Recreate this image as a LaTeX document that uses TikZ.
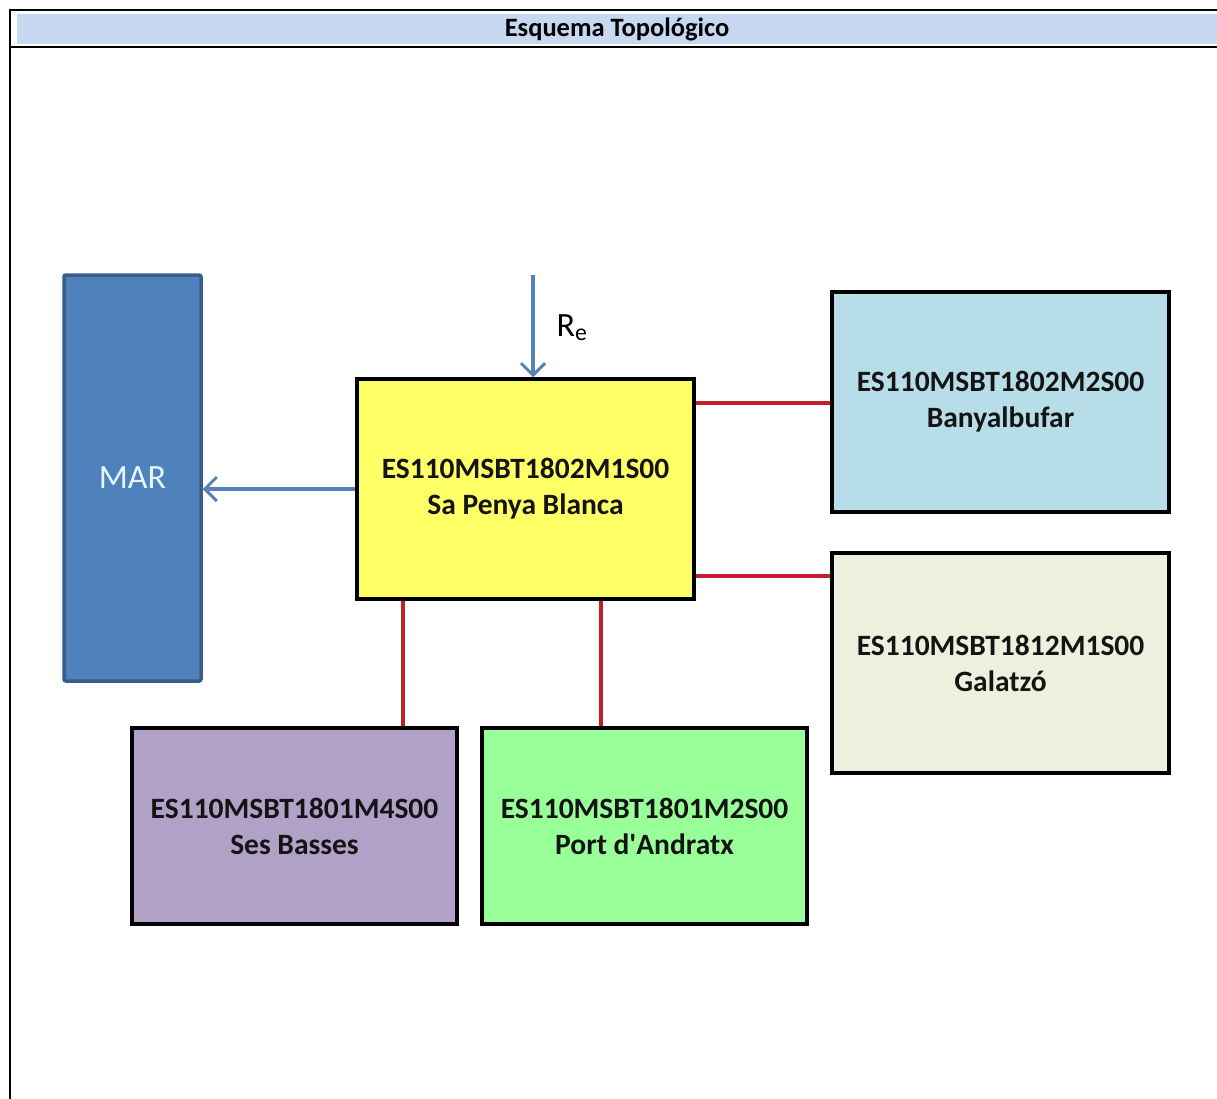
\documentclass[tikz,border=0pt]{standalone}
\usepackage{fontspec}
\setmainfont{Carlito}
\usetikzlibrary{arrows.meta}
\definecolor{hdrfill}{RGB}{198,217,241}
\definecolor{marfill}{RGB}{79,129,189}
\definecolor{mardraw}{RGB}{56,93,138}
\definecolor{flowblue}{RGB}{84,130,184}
\definecolor{linkred}{RGB}{192,32,40}
\definecolor{yelfill}{RGB}{255,255,102}
\definecolor{bluefill}{RGB}{183,222,232}
\definecolor{palefill}{RGB}{235,241,222}
\definecolor{lilacfill}{RGB}{178,161,199}
\definecolor{greenfill}{RGB}{153,255,153}
\tikzset{
  mass/.style={draw=black, line width=3.5pt, rectangle, inner sep=0pt, align=center,
    font=\fontsize{29.5}{36}\selectfont\bfseries, text=black!92},
  flow/.style={draw=flowblue, line width=3.5pt, -{Straight Barb[length=12pt,width=24pt,line width=3pt]}},
  link/.style={draw=linkred, line width=3.5pt},
  frame/.style={draw=black, line width=2.5pt}
}
\begin{document}
\begin{tikzpicture}[x=1pt,y=-1pt]
\useasboundingbox (0,0) rectangle (1217,1099);
% table frame and header band
\fill[hdrfill] (17,14) rectangle (1217,44);
\draw[frame] (10,1099) -- (10,10) -- (1217,10);
\draw[frame] (10,47) -- (1217,47);
\node[font=\fontsize{26.5}{30}\selectfont\bfseries] (title) at (617,29) {Esquema Topológico};

% water bodies
\node[draw=mardraw, fill=marfill, line width=3.5pt, rounded corners=2pt, inner sep=0pt,
  minimum width=137pt, minimum height=406pt, text=white!90!cyan,
  font=\fontsize{34}{40}\selectfont] (mar) at (132.5,478) {MAR};
\node[mass, fill=yelfill, minimum width=337pt, minimum height=220pt] (pb) at (525.5,489)
  {ES110MSBT1802M1S00\\Sa Penya Blanca};
\node[mass, fill=bluefill, minimum width=337pt, minimum height=220pt] (ban) at (1000.5,402)
  {ES110MSBT1802M2S00\\Banyalbufar};
\node[mass, fill=palefill, minimum width=337pt, minimum height=220pt] (gal) at (1000.5,663)
  {ES110MSBT1812M1S00\\Galatzó};
\node[mass, fill=lilacfill, minimum width=325pt, minimum height=196pt] (ses) at (294.5,826)
  {ES110MSBT1801M4S00\\Ses Basses};
\node[mass, fill=greenfill, minimum width=325pt, minimum height=196pt] (port) at (644.5,826)
  {ES110MSBT1801M2S00\\Port d\textquotesingle Andratx};

% recharge inflow
\coordinate (re) at (533,275);
\draw[flow] (re) -- (re |- pb.north);
\node[font=\fontsize{34}{38}\selectfont, anchor=west] (relabel) at (553,328) {R\textsubscript{e}};

% outflow to the sea
\draw[flow] (pb.west |- 0,489) -- (mar.east |- 0,489);

% connections between water bodies
\draw[link] (pb.east |- 0,403) -- (ban.west |- 0,403);
\draw[link] (pb.east |- 0,576) -- (gal.west |- 0,576);
\draw[link] (pb.south -| 403,0) -- (ses.north -| 403,0);
\draw[link] (pb.south -| 601,0) -- (port.north -| 601,0);
\end{tikzpicture}
\end{document}
